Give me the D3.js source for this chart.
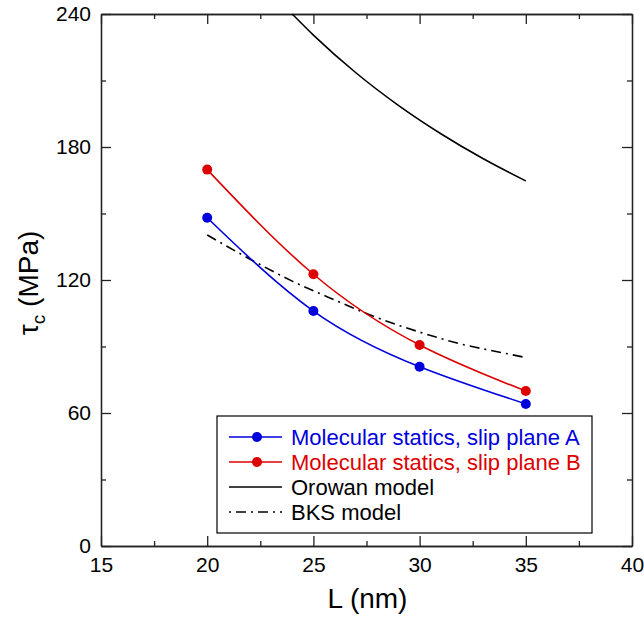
<!DOCTYPE html>
<html><head><meta charset="utf-8">
<script src="https://cdn.jsdelivr.net/npm/d3@7"></script>
<style>body{margin:0;background:#fff}svg{display:block}text{font-family:"Liberation Sans",Arial,Helvetica,sans-serif}</style>
</head><body>
<script>
const L_ms = [20, 25, 30, 35];
const planeA = [148.1, 106.0, 80.9, 64.1];
const planeB = [169.8, 122.6, 90.7, 69.9];
const L_orowan = [24, 25, 27, 29, 31, 33, 35];
const orowan = [240, 230.5, 213.5, 198.8, 186, 174.7, 164.7];
const L_bks = [20, 22, 24, 26, 28, 30, 32, 34, 35];
const bks = [140.3, 129.5, 119.5, 111, 103, 96.5, 91, 87, 85];
const xTicks = [15, 20, 25, 30, 35, 40];
const xMinor = [17.5, 22.5, 27.5, 32.5, 37.5];
const yTicks = [0, 60, 120, 180, 240];
const yMinor = [30, 90, 150, 210];
const legendLabels = ["Molecular statics, slip plane A", "Molecular statics, slip plane B", "Orowan model", "BKS model"];

const W = 644, H = 618;
const svg = d3.select("body").append("svg").attr("width", W).attr("height", H);
const x = d3.scaleLinear().domain([15, 40]).range([101, 632]);
const y = d3.scaleLinear().domain([0, 240]).range([546, 14]);
const blue = "#0000dd", red = "#dd0000";

function styleAxis(g) {
  g.selectAll("path,line").attr("stroke", "#222").attr("stroke-width", 1.3);
  g.selectAll("text").attr("font-size", 21).attr("fill", "#000").attr("font-family", '"Liberation Sans",Arial,sans-serif');
}
// major axes
svg.append("g").attr("transform", `translate(0,${y(0)})`)
  .call(d3.axisBottom(x).tickValues(xTicks).tickSizeInner(-10).tickSizeOuter(0).tickPadding(11)).call(styleAxis);
svg.append("g").attr("transform", `translate(${x(15)},0)`)
  .call(d3.axisLeft(y).tickValues(yTicks).tickSizeInner(-10).tickSizeOuter(0).tickPadding(10)).call(styleAxis);
svg.append("g").attr("transform", `translate(0,${y(240)})`)
  .call(d3.axisTop(x).tickValues(xTicks).tickSizeInner(-10).tickSizeOuter(0).tickFormat("")).call(styleAxis);
svg.append("g").attr("transform", `translate(${x(40)},0)`)
  .call(d3.axisRight(y).tickValues(yTicks).tickSizeInner(-10).tickSizeOuter(0).tickFormat("")).call(styleAxis);
// minor ticks
svg.append("g").attr("transform", `translate(0,${y(0)})`)
  .call(d3.axisBottom(x).tickValues(xMinor).tickSizeInner(-5).tickSizeOuter(0).tickFormat("")).call(styleAxis);
svg.append("g").attr("transform", `translate(0,${y(240)})`)
  .call(d3.axisTop(x).tickValues(xMinor).tickSizeInner(-5).tickSizeOuter(0).tickFormat("")).call(styleAxis);
svg.append("g").attr("transform", `translate(${x(15)},0)`)
  .call(d3.axisLeft(y).tickValues(yMinor).tickSizeInner(-5).tickSizeOuter(0).tickFormat("")).call(styleAxis);
svg.append("g").attr("transform", `translate(${x(40)},0)`)
  .call(d3.axisRight(y).tickValues(yMinor).tickSizeInner(-5).tickSizeOuter(0).tickFormat("")).call(styleAxis);

// curves
const smooth = d3.line().x(d => x(d[0])).y(d => y(d[1])).curve(d3.curveNatural);
const straight = d3.line().x(d => x(d[0])).y(d => y(d[1])).curve(d3.curveMonotoneX);
const zip = (a, b) => a.map((v, i) => [v, b[i]]);

svg.append("path").attr("d", straight(zip(L_orowan, orowan))).attr("fill", "none").attr("stroke", "#000").attr("stroke-width", 1.6);
svg.append("path").attr("d", straight(zip(L_bks, bks))).attr("fill", "none").attr("stroke", "#000").attr("stroke-width", 1.6).attr("stroke-dasharray", "10,5,2,5");
[[planeA, blue], [planeB, red]].forEach(([vals, c]) => {
  const pts = zip(L_ms, vals);
  svg.append("path").attr("d", smooth(pts)).attr("fill", "none").attr("stroke", c).attr("stroke-width", 1.6);
  svg.selectAll(null).data(pts).enter().append("circle")
    .attr("cx", d => x(d[0])).attr("cy", d => y(d[1])).attr("r", 5).attr("fill", c);
});

// axis titles
svg.append("text").attr("x", (x(25) + x(30)) / 2 + 1).attr("y", 608).attr("text-anchor", "middle")
  .attr("font-size", 28).text("L (nm)");
const yt = svg.append("text").attr("transform", "translate(38,283) rotate(-90)").attr("text-anchor", "middle").attr("font-size", 28);
yt.append("tspan").text("τ");
yt.append("tspan").attr("font-size", 19).attr("dy", 7).text("c");
yt.append("tspan").attr("dy", -7).text(" (MPa)");

// legend
const lg = svg.append("g");
lg.append("rect").attr("x", 217).attr("y", 416).attr("width", 375).attr("height", 117)
  .attr("fill", "#fff").attr("stroke", "#000").attr("stroke-width", 1.2);
const styles = [
  {c: blue, dash: null, dot: true},
  {c: red, dash: null, dot: true},
  {c: "#000", dash: null, dot: false},
  {c: "#000", dash: "2,5,10,5", dot: false}
];
legendLabels.forEach((t, i) => {
  const cy = 437 + i * 25;
  const s = styles[i];
  const ln = lg.append("line").attr("x1", 229).attr("x2", 282).attr("y1", cy).attr("y2", cy)
    .attr("stroke", s.c).attr("stroke-width", 1.6);
  if (s.dash) ln.attr("stroke-dasharray", s.dash);
  if (s.dot) lg.append("circle").attr("cx", 257).attr("cy", cy).attr("r", 5).attr("fill", s.c);
  lg.append("text").attr("x", 291).attr("y", cy).attr("dy", "0.36em").attr("font-size", 22)
    .attr("fill", i < 2 ? s.c : "#000").text(t);
});
</script>
</body></html>
